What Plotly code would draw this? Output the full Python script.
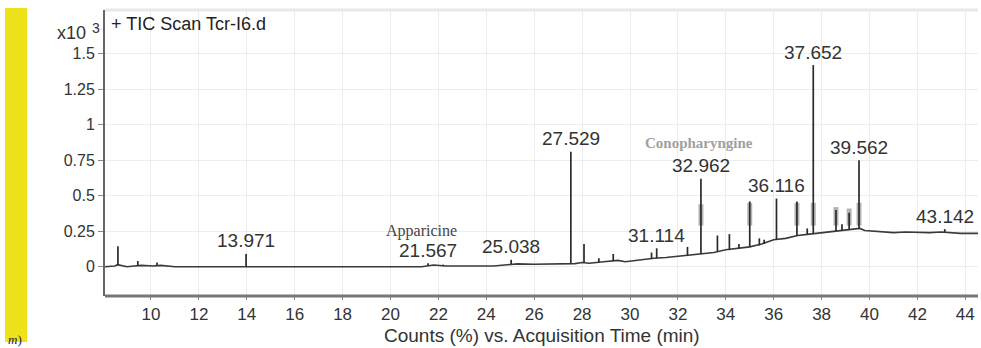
import plotly.graph_objects as go

# Baseline of the total ion chromatogram (time in min, counts x10^3)
base_time = [8.08, 8.5, 8.6, 8.7, 9.0, 9.3, 9.6, 10.1, 10.4, 11.0, 13.8, 14.1, 16.0, 18.0,
             21.3, 21.8, 22.3, 24.3, 24.8, 25.3, 26.0, 27.0, 27.4, 27.7, 28.0, 28.3, 28.9,
             29.2, 29.5, 29.8, 30.0, 30.5, 31.0, 31.5, 32.0, 32.5, 33.0, 33.5, 34.0, 34.5,
             35.0, 35.5, 36.0, 36.5, 37.0, 37.5, 38.0, 38.5, 39.0, 39.6, 39.8, 40.2, 40.6,
             41.0, 41.5, 42.0, 42.5, 43.0, 43.3, 43.8, 44.55]
base_level = [0.0, 0.005, 0.015, 0.01, 0.0, 0.005, 0.01, 0.005, 0.01, 0.0, 0.0, 0.005, 0.0, 0.0,
              0.0, 0.012, 0.005, 0.005, 0.012, 0.02, 0.018, 0.02, 0.022, 0.022, 0.03, 0.025, 0.035,
              0.04, 0.045, 0.035, 0.04, 0.05, 0.06, 0.065, 0.075, 0.08, 0.09, 0.1, 0.12, 0.13,
              0.14, 0.16, 0.19, 0.2, 0.22, 0.23, 0.24, 0.25, 0.26, 0.27, 0.255, 0.25, 0.245,
              0.24, 0.245, 0.24, 0.24, 0.245, 0.24, 0.235, 0.235]

# Peaks: retention time, foot level, apex level
peak_time = [8.62, 9.45, 10.25, 13.971, 21.567, 22.2, 25.038, 27.529, 28.08, 28.7, 29.3,
             30.9, 31.114, 32.4, 32.962, 33.65, 34.15, 34.55, 35.0, 35.4, 35.6, 36.116,
             36.97, 37.4, 37.652, 38.6, 38.85, 39.15, 39.562, 43.142]
peak_foot = [0.01, 0.005, 0.01, 0.0, 0.005, 0.005, 0.02, 0.022, 0.028, 0.03, 0.04,
             0.058, 0.06, 0.08, 0.09, 0.11, 0.12, 0.13, 0.14, 0.15, 0.16, 0.19,
             0.22, 0.23, 0.235, 0.25, 0.255, 0.26, 0.27, 0.24]
peak_apex = [0.145, 0.04, 0.03, 0.09, 0.025, 0.015, 0.05, 0.81, 0.16, 0.06, 0.09,
             0.1, 0.13, 0.14, 0.62, 0.22, 0.23, 0.16, 0.46, 0.2, 0.19, 0.48,
             0.46, 0.27, 1.42, 0.4, 0.3, 0.38, 0.75, 0.265]

# Grey overlay marks on the late-eluting peaks
overlay_time = [32.962, 35.0, 36.97, 37.652, 38.6, 39.15, 39.562]
overlay_low = [0.29] * 7
overlay_high = [0.44, 0.45, 0.45, 0.45, 0.42, 0.41, 0.45]

labelled_peaks = ["13.971", "21.567", "25.038", "27.529", "31.114",
                  "32.962", "36.116", "37.652", "39.562", "43.142"]

x_ticks = list(range(10, 46, 2))
y_ticks = [0, 0.25, 0.5, 0.75, 1, 1.25, 1.5]
y_tick_text = ["0", "0.25", "0.5", "0.75", "1", "1.25", "1.5"]

FONT = "Arial, Liberation Sans, sans-serif"
SERIF = "Times New Roman, Liberation Serif, serif"


def segments(xs, lo, hi):
    px, py = [], []
    for x, a, b in zip(xs, lo, hi):
        px += [x, x, None]
        py += [a, b, None]
    return px, py


fig = go.Figure()

ox, oy = segments(overlay_time, overlay_low, overlay_high)
fig.add_trace(go.Scatter(x=ox, y=oy, mode="lines", line=dict(color="#b4b4b4", width=5),
                         hoverinfo="skip", showlegend=False))

fig.add_trace(go.Scatter(x=base_time, y=base_level, mode="lines",
                         line=dict(color="#3a3a3a", width=1.6), showlegend=False))

px, py = segments(peak_time, peak_foot, peak_apex)
fig.add_trace(go.Scatter(x=px, y=py, mode="lines",
                         line=dict(color="#2a2a2a", width=1.7), showlegend=False))

apex_of = {f"{t:.3f}": a for t, a in zip(peak_time, peak_apex)}
annotations = []
for lab in labelled_peaks:
    annotations.append(dict(x=float(lab), y=apex_of[lab], text=lab, showarrow=False,
                            yshift=13, yanchor="middle", xanchor="center",
                            font=dict(family=FONT, size=19, color="#333")))

annotations += [
    dict(x=21.3, y=0.25, text="Apparicine", showarrow=False, xanchor="center",
         yanchor="middle", font=dict(family=SERIF, size=16, color="#444")),
    dict(x=32.9, y=0.87, text="<b>Conopharyngine</b>", showarrow=False, xanchor="center",
         yanchor="middle", font=dict(family=SERIF, size=15, color="#a0a0a0")),
    dict(xref="paper", yref="paper", x=0.005, y=0.95, text="+ TIC Scan Tcr-I6.d",
         showarrow=False, xanchor="left", yanchor="middle",
         font=dict(family=FONT, size=18, color="#222")),
    dict(xref="paper", yref="paper", x=-0.019, y=0.921, text="x10", showarrow=False,
         xanchor="right", yanchor="middle", font=dict(family=FONT, size=18, color="#333")),
    dict(xref="paper", yref="paper", x=-0.017, y=0.937, text="3", showarrow=False,
         xanchor="left", yanchor="middle", font=dict(family=FONT, size=14, color="#333")),
    dict(xref="paper", yref="paper", x=-0.113, y=-0.152, text="<i>m</i>)", showarrow=False,
         xanchor="left", yanchor="middle", font=dict(family=SERIF, size=13, color="#223")),
    # x-axis title
    dict(xref="paper", yref="paper", x=0.5, y=-0.138,
         text="Counts (%) vs. Acquisition Time (min)", showarrow=False,
         xanchor="center", yanchor="middle",
         font=dict(family=FONT, size=19, color="#333")),
]

fig.update_layout(
    width=981, height=348,
    margin=dict(l=105, r=3, t=10, b=52),
    paper_bgcolor="white", plot_bgcolor="white",
    annotations=annotations,
    shapes=[
        dict(type="rect", xref="paper", yref="paper", x0=-0.1145, x1=-0.0893,
             y0=-0.161, y1=1.007, fillcolor="#eee21a", line=dict(width=0), layer="below"),
        dict(type="line", xref="paper", yref="paper", x0=0, x1=1, y0=1, y1=1,
             line=dict(color="#e8e8e8", width=3)),
        # heavy bottom frame line of the plot area
        dict(type="line", xref="paper", yref="paper", x0=0, x1=1, y0=0, y1=0,
             line=dict(color="#777", width=3)),
    ],
    xaxis=dict(range=[8.08, 44.53], tickvals=x_ticks, ticks="outside", ticklen=3,
               tickcolor="#888", showgrid=True, gridcolor="#ececec", gridwidth=1,
               showline=False, zeroline=False,
               tickfont=dict(family=FONT, size=17, color="#333")),
    yaxis=dict(range=[-0.206, 1.808], tickvals=y_ticks, ticktext=y_tick_text,
               ticks="outside", ticklen=5, tickcolor="#888", showgrid=True,
               gridcolor="#ececec", gridwidth=1, showline=True, linecolor="#666",
               linewidth=2, zeroline=False,
               tickfont=dict(family=FONT, size=16, color="#333")),
)

fig.write_html("out.html")
